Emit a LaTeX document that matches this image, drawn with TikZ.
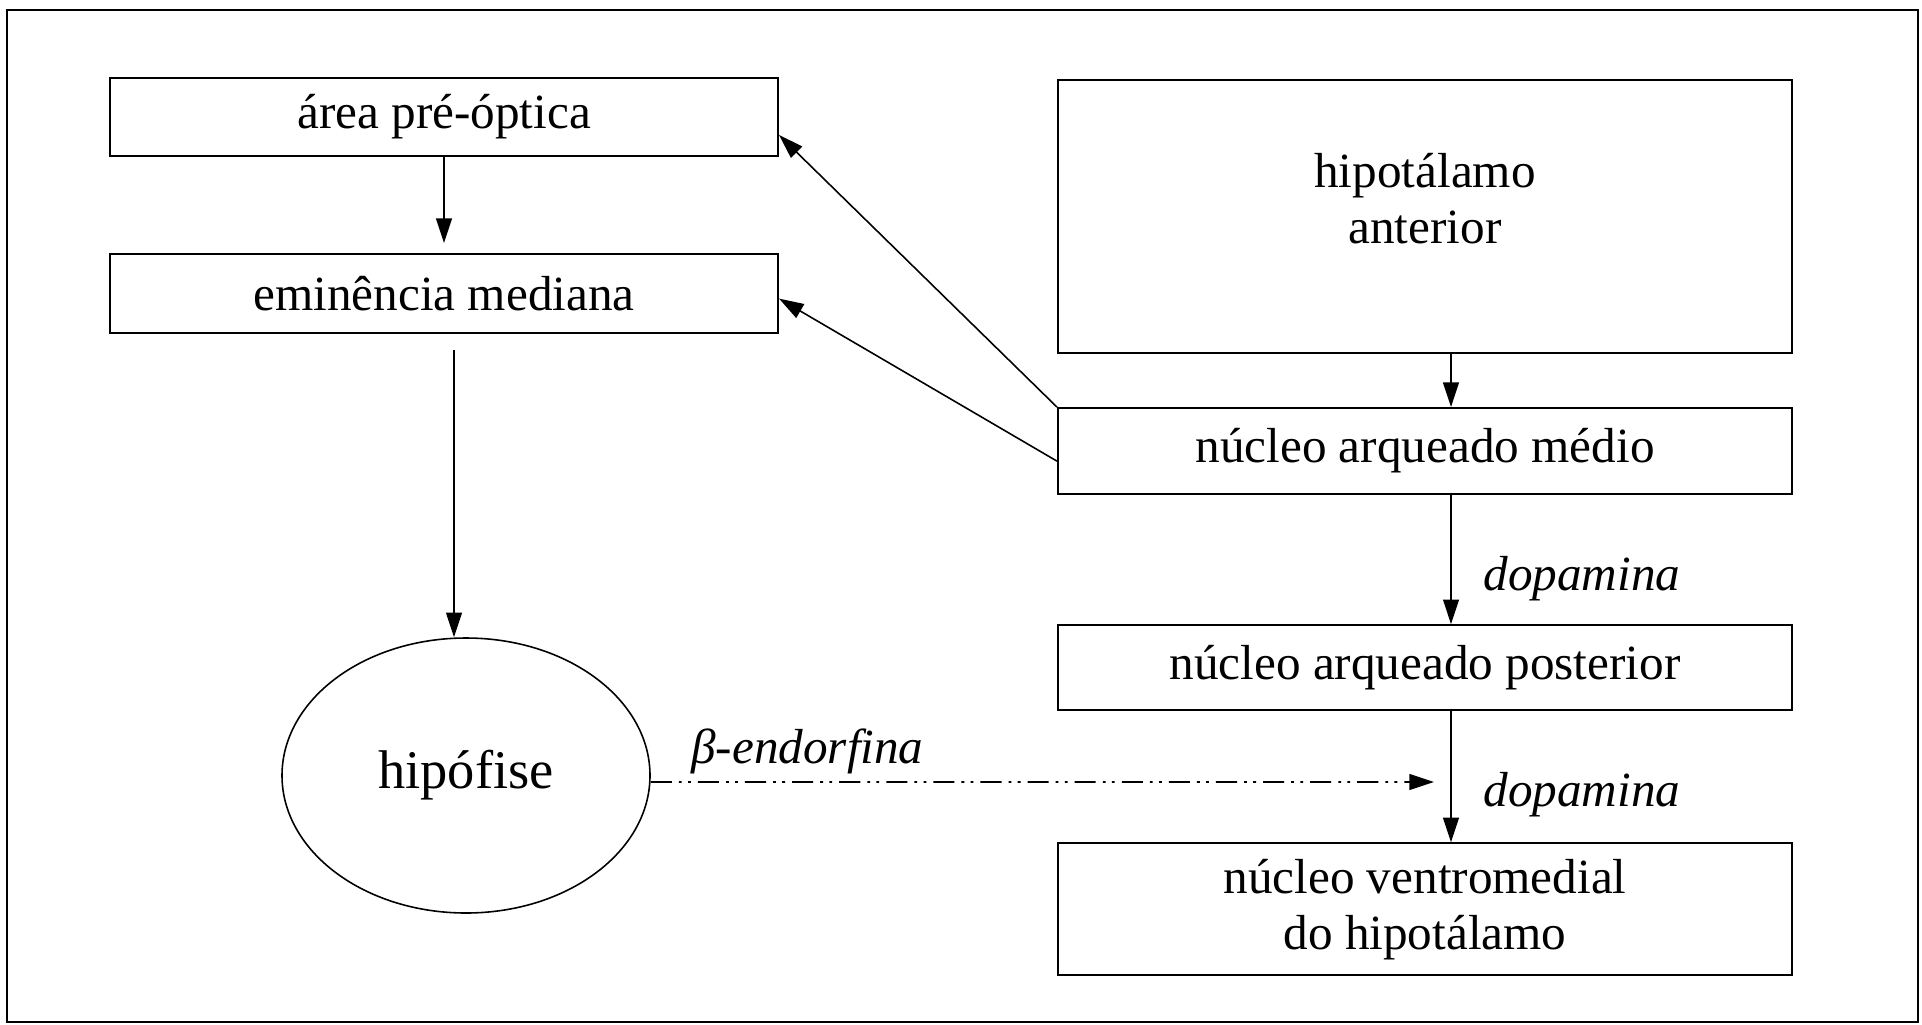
\documentclass[tikz,border=0pt]{standalone}
\usepackage{fontspec}
\setmainfont{Liberation Serif}
\usetikzlibrary{positioning, shapes.geometric, arrows.meta}

\begin{document}
\begin{tikzpicture}[auto, node distance=1cm, box/.style={draw, rectangle, line width=0.6pt, align=center, font=\fontsize{14}{16}\selectfont}, arrow/.style={draw, -{Triangle[length=7pt, width=4.5pt]}, line width=0.45pt}, hormone/.style={font=\fontsize{14}{16}\selectfont\itshape}, dashdot/.style={dash pattern=on 6pt off 2pt on 0.8pt off 1.8pt on 0.8pt off 2pt}]
    \useasboundingbox (0,0) rectangle (19.22,-10.24);
    \draw[line width=0.6pt] (0.07,-0.10) rectangle (19.18,-10.22);

    % nodes
    \node[box, minimum width=6.68cm, minimum height=0.78cm] (A) at (4.44,-1.17) {área pré-óptica};
    \node[box, minimum width=6.68cm, minimum height=0.79cm] (B) [below=0.96cm of A] {eminência mediana};
    \node[box, minimum width=7.34cm, minimum height=2.73cm] (C) at (14.25,-2.165) {\begin{tabular}{@{}c@{}}hipotálamo\\anterior\end{tabular}\rule[-0.68cm]{0pt}{0pt}};
    \node[box, minimum width=7.34cm, minimum height=0.86cm] (D) [below=0.53cm of C] {núcleo arqueado médio};
    \node[box, minimum width=7.34cm, minimum height=0.85cm] (E) [below=1.29cm of D] {núcleo arqueado posterior};
    \node[box, minimum width=7.34cm, minimum height=1.32cm] (F) [below=1.31cm of E] {núcleo ventromedial\\do hipotálamo};
    \node[draw, ellipse, line width=0.45pt, minimum width=3.68cm, minimum height=2.75cm, font=\fontsize{15.5}{18}\selectfont] (H) at (4.66,-7.755) {hipófise};
    \coordinate (Hend) at (14.34,-7.82);

    % arrows
    \draw[arrow, shorten >=0.1cm] (A) -- (B);
    \draw[arrow, shorten <=0.16cm] ([xshift=0.1cm]B.south) -- ([xshift=0.1cm]B.south |- H.north);
    \draw[arrow] ([xshift=0.26cm]C.south) -- ([xshift=0.26cm]D.north);
    \draw[arrow] ([xshift=0.26cm]D.south) -- node[hormone, pos=0.65, right=0.2cm] {dopamina} ([xshift=0.26cm]E.north);
    \draw[arrow] ([xshift=0.26cm]E.south) -- node[hormone, pos=0.64, right=0.2cm] {dopamina} ([xshift=0.26cm]F.north);
    \draw[arrow] (D.north west) -- ([yshift=-0.18cm]A.east);
    \draw[arrow] ([yshift=-0.1cm]D.west) -- ([yshift=-0.05cm]B.east);
    \draw[arrow, dashdot] ([yshift=-0.065cm]H.east) -- node[hormone, above, inner sep=2pt, pos=0.2] {β-endorfina} (Hend);
\end{tikzpicture}
\end{document}
